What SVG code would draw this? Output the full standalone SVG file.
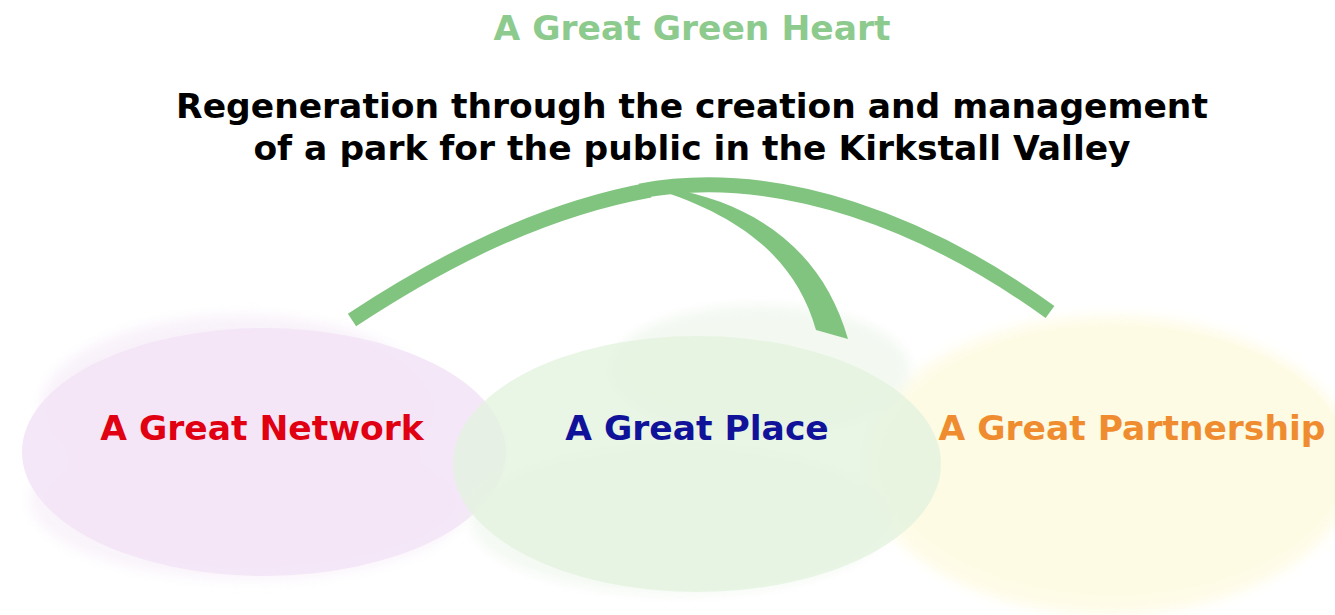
<svg xmlns="http://www.w3.org/2000/svg" width="1335" height="615" viewBox="0 0 1335 615">
<defs>
<style>
text{font-family:"DejaVu Sans","Verdana","Liberation Sans",sans-serif;font-weight:bold;text-anchor:middle;font-size:34.5px}
.band{fill:none;stroke:#80c47f;stroke-width:15}
</style>
<filter id="blur" x="-20%" y="-20%" width="140%" height="140%"><feGaussianBlur stdDeviation="6"/></filter>
</defs>
<rect width="1335" height="615" fill="#ffffff"/>
<text x="692" y="40" fill="#8dca8d">A Great Green Heart</text>
<text x="692" y="118" fill="#000">Regeneration through the creation and management</text>
<text x="692" y="160" fill="#000">of a park for the public in the Kirkstall Valley</text>

<g id="node-partnership">
<ellipse cx="1110" cy="465" rx="245" ry="150" fill="#fefbe2" opacity="0.8" filter="url(#blur)"/>
<ellipse cx="1115" cy="460" rx="232" ry="135" fill="#fdfbe4"/>
<text x="1132" y="440" fill="#f08c30">A Great Partnership</text>
</g>
<g id="node-network">
<ellipse cx="240" cy="410" rx="200" ry="95" fill="#f6ecf8" opacity="0.7" filter="url(#blur)"/>
<ellipse cx="250" cy="500" rx="220" ry="80" fill="#f6ecf8" opacity="0.6" filter="url(#blur)"/>
<ellipse cx="264" cy="452" rx="242" ry="124" fill="#f3e5f6" opacity="0.92"/>
<text x="262" y="440" fill="#e00012">A Great Network</text>
</g>
<g id="node-place">
<ellipse cx="760" cy="370" rx="150" ry="65" fill="#eef6ec" opacity="0.7" filter="url(#blur)"/>
<ellipse cx="680" cy="520" rx="210" ry="75" fill="#eef6ec" opacity="0.6" filter="url(#blur)"/>
<ellipse cx="697" cy="464" rx="244" ry="128" fill="#e4f2df" opacity="0.8"/>
<text x="697" y="440" fill="#10139a">A Great Place</text>
</g>

<g id="connectors">
<path class="band" d="M 352,320 C 440,262 540,210 650,190"/>
<path class="band" d="M 640,191 C 780,165 930,225 1050,312"/>
<path d="M 645,186 C 735,212 795,255 816,330 L 848,339 C 825,258 765,205 668,188 Z" fill="#80c47f"/>
</g>
</svg>
